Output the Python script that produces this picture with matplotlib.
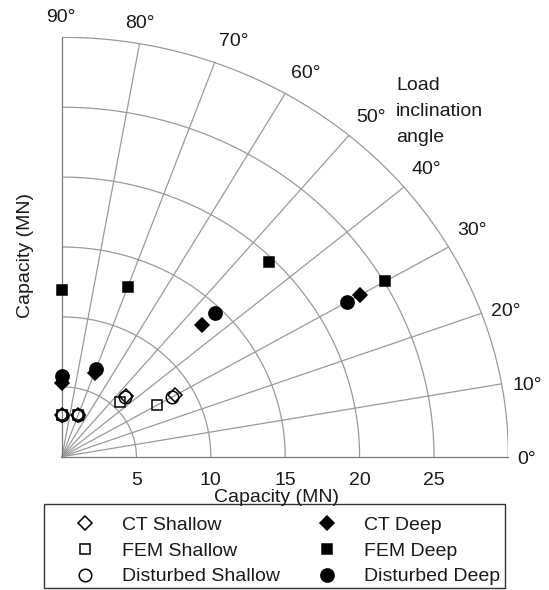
import numpy as np
import matplotlib
matplotlib.use("Agg")
import matplotlib.pyplot as plt
from matplotlib.patches import Rectangle

plt.rcParams['font.family'] = ['Liberation Sans', 'DejaVu Sans']

# Load inclination angles (degrees) at which capacities were evaluated
angles_deg = [90, 70, 45, 30]

# Capacities (MN)
ct_shallow = [3.0, 3.2, 6.1, 8.8]
fem_shallow = [3.0, 3.2, 5.5, 7.4]
disturbed_shallow = [3.0, 3.2, 6.0, 8.5]
ct_deep = [5.3, 6.4, 13.3, 23.1]
fem_deep = [11.9, 12.9, 19.7, 25.1]
disturbed_deep = [5.8, 6.7, 14.5, 22.1]

# Polar grid
r_max = 30
ring_values = [5, 10, 15, 20, 25, 30]
spoke_angles = [0, 10, 20, 30, 40, 50, 60, 70, 80, 90]
x_tick_values = [5, 10, 15, 20, 25]

TEXT = '#1a1a1a'
GRID = '#9a9a9a'
FS = 14

W, H = 549, 590
fig = plt.figure(figsize=(W / 100, H / 100), dpi=100)
ox, oy = 62, 456.7       # origin in pixels
sx, sy = 14.88, 13.98    # pixels per MN in x and y
ax = fig.add_axes([ox / W, (H - oy) / H, r_max * sx / W, r_max * sy / H])
ax.set_xlim(0, r_max)
ax.set_ylim(0, r_max)
for s in ax.spines.values():
    s.set_visible(False)

# rings
t = np.linspace(0, np.pi / 2, 300)
for r in ring_values:
    ax.plot(r * np.cos(t), r * np.sin(t), color=GRID, lw=0.9, zorder=1)
# spokes
for a in spoke_angles:
    th = np.deg2rad(a)
    c = '#7a7a7a' if a in (0, 90) else GRID
    ax.plot([0, r_max * np.cos(th)], [0, r_max * np.sin(th)], color=c, lw=0.9,
            zorder=1, clip_on=False)

# angle labels, placed just outside the outer ring (pixel centres)
angle_label_px = {0: (527, 459), 10: (527, 386), 20: (506, 312), 30: (472, 230),
                  40: (426, 170), 50: (371, 117), 60: (306, 74), 70: (234, 42),
                  80: (140, 24), 90: (61, 17)}
for a in spoke_angles:
    px, py = angle_label_px[a]
    fig.text(px / W, 1 - py / H, f'{a}\u00b0', fontsize=FS, color=TEXT,
             ha='center', va='center')

# radial tick labels along the 0 degree axis
ax.set_xticks(x_tick_values)
ax.set_xticklabels([str(v) for v in x_tick_values])
ax.tick_params(axis='x', length=0, pad=11, labelsize=FS, labelcolor=TEXT)
ax.set_yticks([])

fig.text(277 / W, 1 - 498 / H, 'Capacity (MN)', fontsize=FS, color=TEXT,
         ha='center', va='center')
fig.text(25 / W, 1 - 255 / H, 'Capacity (MN)', fontsize=FS, color=TEXT,
         ha='center', va='center', rotation=90)
for line, py in zip(['Load', 'inclination', 'angle'], [85, 111.5, 138]):
    fig.text(396 / W, 1 - py / H, line, fontsize=FS, color=TEXT,
             ha='left', va='center')

th = np.deg2rad(angles_deg)
series = [
    ('CT Shallow', ct_shallow, 'D', 7.5, 'none'),
    ('FEM Shallow', fem_shallow, 's', 7, 'none'),
    ('Disturbed Shallow', disturbed_shallow, 'o', 9, 'none'),
    ('CT Deep', ct_deep, 'D', 7.5, 'black'),
    ('FEM Deep', fem_deep, 's', 6.5, 'black'),
    ('Disturbed Deep', disturbed_deep, 'o', 9.5, 'black'),
]
handles = []
for name, vals, mk, ms, fc in series:
    r = np.asarray(vals)
    h, = ax.plot(r * np.cos(th), r * np.sin(th), ls='none', marker=mk,
                 ms=ms, mfc=fc, mec='black', mew=1.1, label=name,
                 clip_on=False, zorder=3)
    handles.append(h)

# legend entries, with a separate box around them
leg = fig.legend(handles=handles, loc='center', ncol=2, mode='expand',
                 bbox_to_anchor=(43 / W, 1 - 551 / H, 466 / W, 0),
                 borderaxespad=0, fontsize=FS, frameon=False,
                 handlelength=3.4, handletextpad=0.2,
                 labelspacing=0.41, borderpad=0.45, labelcolor=TEXT)
fig.add_artist(Rectangle((44 / W, 1 - 588 / H), 461 / W, 84 / H,
                         transform=fig.transFigure, fill=False,
                         ec='#333333', lw=1.0))

fig.savefig('out.png', dpi=100)
